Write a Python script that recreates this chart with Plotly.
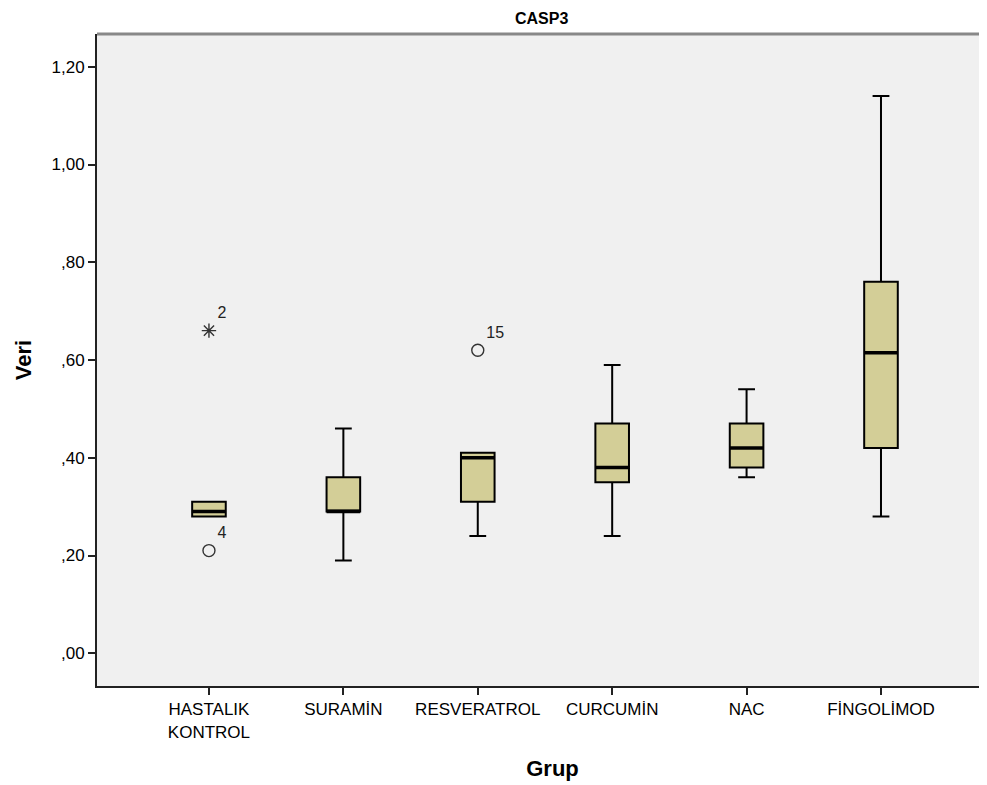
import plotly.graph_objects as go

groups = ["HASTALIK<br>KONTROL", "SURAMİN", "RESVERATROL", "CURCUMİN", "NAC", "FİNGOLİMOD"]
q1 = [0.28, 0.29, 0.31, 0.35, 0.38, 0.42]
median = [0.29, 0.29, 0.40, 0.38, 0.42, 0.615]
q3 = [0.31, 0.36, 0.41, 0.47, 0.47, 0.76]
lower = [0.28, 0.19, 0.24, 0.24, 0.36, 0.28]
upper = [0.31, 0.46, 0.41, 0.59, 0.54, 1.14]

out_group = [0, 0, 2]
out_value = [0.66, 0.21, 0.62]
out_label = ["2", "4", "15"]
out_symbol = ["asterisk-open", "circle-open", "circle-open"]

yticks = [0.0, 0.2, 0.4, 0.6, 0.8, 1.0, 1.2]
yticklabels = [",00", ",20", ",40", ",60", ",80", "1,00", "1,20"]

xpos = list(range(len(groups)))
FONT = "Liberation Sans, Arial, sans-serif"

fig = go.Figure()
fig.add_trace(go.Box(
    x=xpos, q1=q1, median=median, q3=q3, lowerfence=lower, upperfence=upper,
    width=0.25, whiskerwidth=0.5,
    fillcolor="#D3CE97", line=dict(color="black", width=2),
    boxpoints=False, showlegend=False, hoverinfo="skip",
))
# thicker medians
for i, m in zip(xpos, median):
    fig.add_trace(go.Scatter(x=[i - 0.125, i + 0.125], y=[m, m], mode="lines",
                             line=dict(color="black", width=3.5), showlegend=False, hoverinfo="skip"))

fig.add_trace(go.Scatter(
    x=out_group, y=out_value, mode="markers+text", text=out_label,
    textposition="top right",
    textfont=dict(family=FONT, size=16, color="#222"),
    marker=dict(symbol=out_symbol, size=12, color="#333", line=dict(width=1.4, color="#333")),
    showlegend=False, hoverinfo="skip",
))

fig.update_layout(
    width=1000, height=785,
    margin=dict(l=89, r=0, t=26, b=107),
    paper_bgcolor="white", plot_bgcolor="#F0F0F0",
    font=dict(family=FONT, size=17, color="black"),
    xaxis=dict(
        range=[-0.833, 5.945], tickvals=xpos, ticktext=groups,
        showgrid=False, zeroline=False,
        showline=True, linecolor="#222", linewidth=2,
        ticks="outside", ticklen=7, tickwidth=2, tickcolor="#222",
        tickfont=dict(size=17),
        title=dict(text="<b>Grup</b>", font=dict(size=22), standoff=20),
    ),
    yaxis=dict(
        range=[-0.067, 1.267], tickvals=yticks, ticktext=yticklabels,
        showgrid=False, zeroline=False,
        showline=True, linecolor="#222", linewidth=2,
        ticks="outside", ticklen=7, tickwidth=2, tickcolor="#222",
        tickfont=dict(size=17),
        title=dict(text="<b>Veri</b>", font=dict(size=22), standoff=14),
    ),
    annotations=[dict(text="<b>CASP3</b>", xref="paper", yref="paper", x=(541 - 97) / (1008 - 97),
                      y=1, yshift=16, xanchor="center", yanchor="middle", showarrow=False,
                      font=dict(size=16, color="black"))],
    shapes=[dict(type="line", xref="paper", yref="paper", x0=0, x1=1, y0=1, y1=1,
                 line=dict(color="#888", width=3))],
)

fig.write_html("out.html")
